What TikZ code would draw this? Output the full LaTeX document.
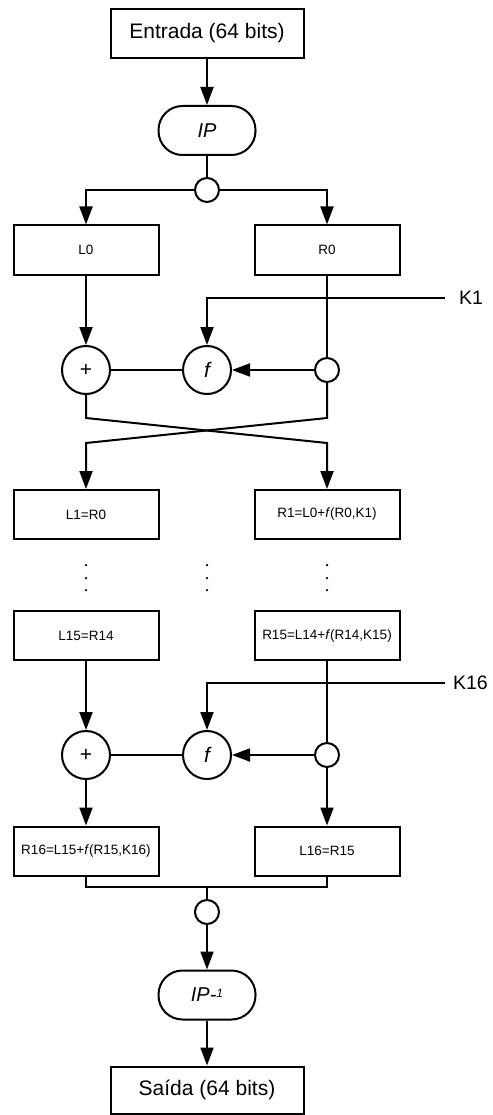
\documentclass[tikz,border=0pt]{standalone}
\usepackage{fontspec}
\setmainfont{Liberation Sans}
\usetikzlibrary{arrows.meta}
\begin{document}
\begin{tikzpicture}[x=1pt,y=-1pt, line width=2pt,
  arr/.style={-{Triangle[length=18pt,width=13pt]}},
  bigbox/.style={draw, rectangle, minimum width=193pt, minimum height=49pt, font=\fontsize{21}{24}\selectfont, inner sep=0},
  term/.style={draw, rectangle, rounded corners=24pt, minimum width=97pt, minimum height=49pt, font=\fontsize{20}{24}\selectfont\itshape, inner sep=0},
  regbox/.style={draw, rectangle, minimum width=145pt, minimum height=49pt, font=\fontsize{13.5}{16}\selectfont, inner sep=0},
  op/.style={draw, circle, minimum size=48pt, inner sep=0, font=\fontsize{21}{24}\selectfont},
  junc/.style={draw, circle, minimum size=24pt, inner sep=0, fill=white},
  dotn/.style={circle, fill=black, minimum size=2.5pt, inner sep=0},
  keyl/.style={anchor=west, inner xsep=13pt, inner ysep=0, font=\fontsize{19.5}{24}\selectfont}]
\useasboundingbox (0,0) rectangle (492,1115);

% top
\node[bigbox] (in) at (207,33.5) {Entrada (64 bits)};
\node[term] (ip) at (207,130.5) {IP};
\node[junc] (c1) at (207,190) {};
\node[regbox] (L0) at (86,250) {L0};
\node[regbox] (R0) at (327,250) {R0};

% round 1
\node[keyl] (K1) at (445,298) {K1};
\node[op] (p1) at (86,370) {+};
\node[op] (f1) at (207,370) {\itshape f};
\node[junc] (s1) at (327,370) {};

\node[regbox] (L1) at (86,514.5) {L1=R0};
\node[regbox] (R1) at (327,514.5) {R1=L0+\textit{f}(R0,K1)};

% dots
\foreach \x/\n in {86/a,207/b,327/c}{
  \node[dotn] (d\n1) at (\x,565) {};
  \node[dotn] (d\n2) at (\x,578) {};
  \node[dotn] (d\n3) at (\x,590) {};
}

\node[regbox] (L15) at (86,635.5) {L15=R14};
\node[regbox] (R15) at (327,635.5) {R15=L14+\textit{f}(R14,K15)};

% round 16
\node[keyl, inner xsep=7pt] (K16) at (445,683) {K16};
\node[op] (p2) at (86,755) {+};
\node[op] (f2) at (207,755) {\itshape f};
\node[junc] (s2) at (327,755) {};

\node[regbox] (R16) at (86,851) {R16=L15+\textit{f}(R15,K16)};
\node[regbox] (L16) at (327,851) {L16=R15};

\coordinate (bj) at (207,887);
\node[junc] (c2) at (207,912) {};
\node[term] (ipi) at (207,995) {IP-\raisebox{0.45ex}{\fontsize{12}{12}\selectfont 1}};
\node[bigbox, minimum height=47pt] (out) at (207,1090) {Saída (64 bits)};

% connectors top
\draw[arr] (in.south) -- (ip.north);
\draw (ip.south) -- (c1.north);
\draw[arr] (c1.west) -| (L0.north);
\draw[arr] (c1.east) -| (R0.north);

% round 1 connectors
\draw[arr] (L0.south) -- (p1.north);
\draw (R0.south) -- (s1.north);
\draw[arr] (K1.west) -| (f1.north);
\draw[arr] (s1.west) -- (f1.east);
\draw (p1.east) -- (f1.west);

\coordinate (xa1) at (86,418);
\coordinate (xa2) at (327,443);
\coordinate (xb1) at (327,418);
\coordinate (xb2) at (86,443);
\draw[arr] (p1.south) -- (xa1) -- (xa2) -- (R1.north);
\draw[arr] (s1.south) -- (xb1) -- (xb2) -- (L1.north);

% round 16 connectors
\draw[arr] (L15.south) -- (p2.north);
\draw (R15.south) -- (s2.north);
\draw[arr] (K16.west) -| (f2.north);
\draw[arr] (s2.west) -- (f2.east);
\draw (p2.east) -- (f2.west);
\draw[arr] (p2.south) -- (R16.north);
\draw[arr] (s2.south) -- (L16.north);

% bottom
\draw (R16.south) |- (bj) -| (L16.south);
\draw (bj) -- (c2.north);
\draw[arr] (c2.south) -- (ipi.north);
\draw[arr] (ipi.south) -- (out.north);
\end{tikzpicture}
\end{document}
